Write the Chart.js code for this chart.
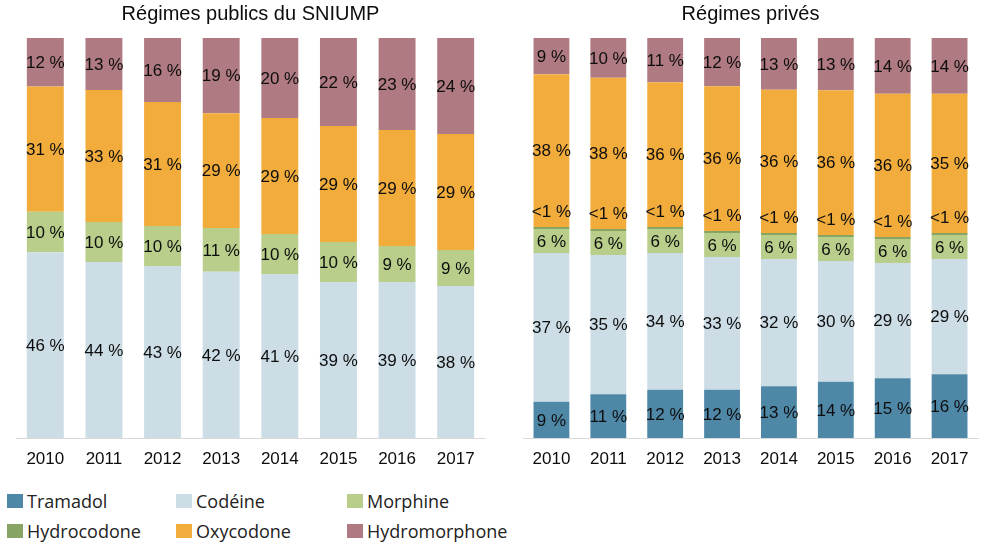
<!DOCTYPE html>
<html><head><meta charset="utf-8">
<script src="https://cdn.jsdelivr.net/npm/chart.js@4.4.0/dist/chart.umd.min.js"></script>
<style>
body{margin:0;background:#fff;width:987px;height:548px;overflow:hidden;position:relative;}
canvas{position:absolute;top:0}
#c1{left:0}
#c2{left:505px}
.item{position:absolute;white-space:nowrap;font-family:"Open Sans",sans-serif;font-size:18px;line-height:20px;color:#222}
.sw{position:absolute;width:16px;height:14px;top:3px;left:-20px}
</style></head><body>
<canvas id="c1" width="500" height="480"></canvas>
<canvas id="c2" width="482" height="480"></canvas>
<div id="legend"></div>
<script>
const years = ['2010','2011','2012','2013','2014','2015','2016','2017'];

// Régimes publics du SNIUMP (%)
const pubCodeine       = [46,44,43,42,41,39,39,38];
const pubMorphine      = [10,10,10,11,10,10, 9, 9];
const pubOxycodone     = [31,33,31,29,29,29,29,29];
const pubHydromorphone = [12,13,16,19,20,22,23,24];

// Régimes privés (%)  (0.5 = "<1 %")
const privTramadol      = [ 9,11,12,12,13,14,15,16];
const privCodeine       = [37,35,34,33,32,30,29,29];
const privMorphine      = [ 6, 6, 6, 6, 6, 6, 6, 6];
const privHydrocodone   = [0.5,0.5,0.5,0.5,0.5,0.5,0.5,0.5];
const privOxycodone     = [38,38,36,36,36,36,36,35];
const privHydromorphone = [ 9,10,11,12,13,13,14,14];

const names  = ['Tramadol','Codéine','Morphine','Hydrocodone','Oxycodone','Hydromorphone'];
const colors = ['#4F87A7','#CCDDE6','#B8CE8A','#87A462','#F1AC3C','#AF7A82'];

function makeDatasets(series){
  const totals = years.map((_,i)=>series.reduce((s,d)=>s+d.values[i],0));
  return series.map(d=>({
    label:d.name,
    raw:d.values,
    data:d.values.map((v,i)=>v/totals[i]*100),
    backgroundColor:colors[names.indexOf(d.name)],
    borderWidth:0,
    barPercentage:0.63,
    categoryPercentage:1.0
  }));
}

const labelPlugin = {
  id:'segLabels',
  afterDatasetsDraw(chart){
    const ctx = chart.ctx;
    ctx.save();
    ctx.font = '17px "Liberation Sans", Arial, sans-serif';
    ctx.fillStyle = '#0d0d0d';
    ctx.textAlign = 'center';
    ctx.textBaseline = 'middle';
    chart.data.datasets.forEach((ds,di)=>{
      const meta = chart.getDatasetMeta(di);
      meta.data.forEach((bar,i)=>{
        const raw = ds.raw[i];
        const txt = raw < 1 ? '<1 %' : raw + ' %';
        let y = (bar.y + bar.base)/2;
        if (raw < 1) y = bar.y - 16;
        ctx.fillText(txt, bar.x, y + 1);
      });
    });
    ctx.restore();
  }
};

function makeChart(id, title, datasets, pad){
  return new Chart(document.getElementById(id), {
    type:'bar',
    data:{labels:years, datasets},
    options:{
      responsive:false,
      animation:false,
      devicePixelRatio:1,
      layout:{padding:pad},
      plugins:{
        legend:{display:false},
        tooltip:{enabled:false},
        title:{display:true,text:title,color:'#0d0d0d',
          font:{family:'"Liberation Sans", Arial, sans-serif',size:20,weight:'normal'},
          padding:{top:2,bottom:12}}
      },
      scales:{
        x:{stacked:true,
          grid:{display:false,drawTicks:false},
          border:{display:true,color:'#D9D9D9',width:1},
          ticks:{color:'#0d0d0d',padding:11,font:{family:'"Liberation Sans", Arial, sans-serif',size:17}},
          afterFit(scale){scale.height = 42;}
        },
        y:{stacked:true,display:false,min:0,max:100}
      }
    },
    plugins:[labelPlugin]
  });
}

makeChart('c1','Régimes publics du SNIUMP', makeDatasets([
  {name:'Codéine',values:pubCodeine},
  {name:'Morphine',values:pubMorphine},
  {name:'Oxycodone',values:pubOxycodone},
  {name:'Hydromorphone',values:pubHydromorphone}
]), {left:16,right:15,top:0,bottom:0});

makeChart('c2','Régimes privés', makeDatasets([
  {name:'Tramadol',values:privTramadol},
  {name:'Codéine',values:privCodeine},
  {name:'Morphine',values:privMorphine},
  {name:'Hydrocodone',values:privHydrocodone},
  {name:'Oxycodone',values:privOxycodone},
  {name:'Hydromorphone',values:privHydromorphone}
]), {left:18,right:9,top:0,bottom:0});

// Legend
const legX = [27,196,367];
const legY = [491,521];
const leg = document.getElementById('legend');
names.forEach((n,i)=>{
  const d = document.createElement('div');
  d.className='item';
  d.style.left = legX[i%3]+'px';
  d.style.top = legY[Math.floor(i/3)]+'px';
  d.innerHTML = '<span class="sw" style="background:'+colors[i]+'"></span>'+n;
  leg.appendChild(d);
});
</script>
</body></html>
